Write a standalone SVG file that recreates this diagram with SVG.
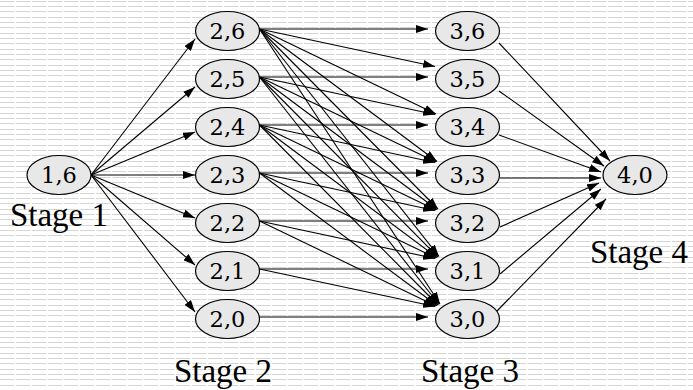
<svg xmlns="http://www.w3.org/2000/svg" width="693" height="390" viewBox="0 0 693 390">
<defs>
<pattern id="bg" width="16" height="16" patternUnits="userSpaceOnUse">
<rect width="16" height="16" fill="#ffffff"/>
<path d="M0,1.5H14.5M0,6.5H14.5M0,11.5H14.5" stroke="#d6d6d6" stroke-width="1.2" fill="none"/>
</pattern>
<marker id="ah" markerUnits="userSpaceOnUse" markerWidth="12" markerHeight="8" refX="12" refY="4" orient="auto">
<path d="M0,0L12,4L0,8z" fill="#000"/>
</marker>
<style>
.n ellipse{fill:#e8e8e8;stroke:#000;stroke-width:1.2}
.n text{font-family:"DejaVu Serif","Liberation Serif",serif;font-size:22.5px;text-anchor:middle;fill:#000}
.lbl{font-family:"Liberation Serif","DejaVu Serif",serif;font-size:33px;text-anchor:middle;fill:#000}
#edges line{stroke:#000;stroke-width:1.1;marker-end:url(#ah)}
</style>
</defs>
<rect width="693" height="390" fill="url(#bg)"/>
<g id="edges">
<line x1="91" y1="175" x2="195" y2="39"/>
<line x1="91" y1="175" x2="195" y2="87"/>
<line x1="91" y1="175" x2="195" y2="132"/>
<line x1="91" y1="175" x2="195" y2="175"/>
<line x1="91" y1="175" x2="195" y2="218"/>
<line x1="91" y1="175" x2="195" y2="265"/>
<line x1="91" y1="175" x2="195" y2="312"/>
<line x1="259.5" y1="29" x2="428" y2="29"/>
<line x1="259.5" y1="29" x2="435" y2="66.5"/>
<line x1="259.5" y1="29" x2="436" y2="114"/>
<line x1="259.5" y1="29" x2="437" y2="161.5"/>
<line x1="259.5" y1="29" x2="438" y2="209"/>
<line x1="259.5" y1="29" x2="439" y2="256.5"/>
<line x1="259.5" y1="29" x2="440" y2="304"/>
<line x1="259.5" y1="77" x2="428" y2="77"/>
<line x1="259.5" y1="77" x2="435" y2="114.5"/>
<line x1="259.5" y1="77" x2="436" y2="162"/>
<line x1="259.5" y1="77" x2="437" y2="209.5"/>
<line x1="259.5" y1="77" x2="438" y2="257"/>
<line x1="259.5" y1="77" x2="439" y2="304.5"/>
<line x1="259.5" y1="125" x2="428" y2="125"/>
<line x1="259.5" y1="125" x2="435" y2="162.5"/>
<line x1="259.5" y1="125" x2="436" y2="210"/>
<line x1="259.5" y1="125" x2="437" y2="257.5"/>
<line x1="259.5" y1="125" x2="438" y2="305"/>
<line x1="259.5" y1="173" x2="428" y2="173"/>
<line x1="259.5" y1="173" x2="435" y2="210.5"/>
<line x1="259.5" y1="173" x2="436" y2="258"/>
<line x1="259.5" y1="173" x2="437" y2="305.5"/>
<line x1="259.5" y1="221" x2="428" y2="221"/>
<line x1="259.5" y1="221" x2="435" y2="258.5"/>
<line x1="259.5" y1="221" x2="436" y2="306"/>
<line x1="259.5" y1="269" x2="428" y2="269"/>
<line x1="259.5" y1="269" x2="435" y2="306.5"/>
<line x1="259.5" y1="317" x2="428" y2="317"/>
<line x1="499" y1="43" x2="610" y2="161"/>
<line x1="499" y1="91" x2="604" y2="166"/>
<line x1="499" y1="135" x2="601" y2="172"/>
<line x1="500" y1="178" x2="601" y2="178"/>
<line x1="500" y1="227" x2="599" y2="183"/>
<line x1="500" y1="274" x2="601" y2="189"/>
<line x1="497" y1="311" x2="606" y2="199"/>
</g>
<g id="n16" class="n"><ellipse cx="59" cy="175" rx="32" ry="19.5"/><text x="59" y="183">1,6</text></g>
<g id="n26" class="n"><ellipse cx="227.5" cy="31" rx="32" ry="19.5"/><text x="227.5" y="39">2,6</text></g>
<g id="n25" class="n"><ellipse cx="227.5" cy="79" rx="32" ry="19.5"/><text x="227.5" y="87">2,5</text></g>
<g id="n24" class="n"><ellipse cx="227.5" cy="127" rx="32" ry="19.5"/><text x="227.5" y="135">2,4</text></g>
<g id="n23" class="n"><ellipse cx="227.5" cy="175" rx="32" ry="19.5"/><text x="227.5" y="183">2,3</text></g>
<g id="n22" class="n"><ellipse cx="227.5" cy="223" rx="32" ry="19.5"/><text x="227.5" y="231">2,2</text></g>
<g id="n21" class="n"><ellipse cx="227.5" cy="271" rx="32" ry="19.5"/><text x="227.5" y="279">2,1</text></g>
<g id="n20" class="n"><ellipse cx="227.5" cy="319" rx="32" ry="19.5"/><text x="227.5" y="327">2,0</text></g>
<g id="n36" class="n"><ellipse cx="467.5" cy="31" rx="32" ry="19.5"/><text x="467.5" y="39">3,6</text></g>
<g id="n35" class="n"><ellipse cx="467.5" cy="79" rx="32" ry="19.5"/><text x="467.5" y="87">3,5</text></g>
<g id="n34" class="n"><ellipse cx="467.5" cy="127" rx="32" ry="19.5"/><text x="467.5" y="135">3,4</text></g>
<g id="n33" class="n"><ellipse cx="467.5" cy="175" rx="32" ry="19.5"/><text x="467.5" y="183">3,3</text></g>
<g id="n32" class="n"><ellipse cx="467.5" cy="223" rx="32" ry="19.5"/><text x="467.5" y="231">3,2</text></g>
<g id="n31" class="n"><ellipse cx="467.5" cy="271" rx="32" ry="19.5"/><text x="467.5" y="279">3,1</text></g>
<g id="n30" class="n"><ellipse cx="467.5" cy="319" rx="32" ry="19.5"/><text x="467.5" y="327">3,0</text></g>
<g id="n40" class="n"><ellipse cx="635" cy="175" rx="32" ry="19.5"/><text x="635" y="183">4,0</text></g>
<g id="labels">
<text class="lbl" x="59" y="226">Stage 1</text>
<text class="lbl" x="223" y="382">Stage 2</text>
<text class="lbl" x="470" y="382">Stage 3</text>
<text class="lbl" x="639" y="263">Stage 4</text>
</g>
</svg>
